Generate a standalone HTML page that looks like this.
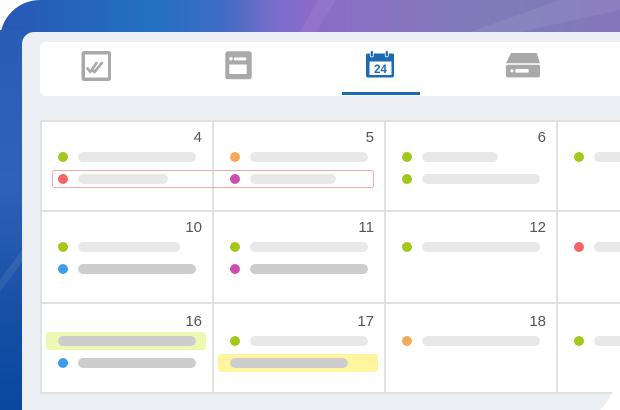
<!DOCTYPE html>
<html><head><meta charset="utf-8">
<style>
*{margin:0;padding:0;box-sizing:border-box}
html,body{width:620px;height:410px;overflow:hidden;background:#fff}
#root{position:relative;width:620px;height:410px;overflow:hidden;font-family:"Liberation Sans",sans-serif}
.abs{position:absolute}
.frame{left:0;top:0;width:620px;height:410px;border-top-left-radius:40px;
background:linear-gradient(90deg,#2757b5 0px,#2370c0 150px,#3d6cc4 220px,#7a6ccb 275px,#8b6bc9 310px,#8676bd 420px,#7c7db9 500px,#8575bb 620px);}
.lband{left:0;top:30px;width:22px;height:380px;background:linear-gradient(180deg,#2a5db6 0%,#2d63b9 40%,#164fa5 75%,#0848a0 100%)}
.screen{left:22px;top:32px;width:598px;height:378px;background:#ebeff3;border-top-left-radius:12px}
.tabs{left:40px;top:42px;width:580px;height:54px;background:#fff;border-radius:6px 0 0 6px}
.uline{left:342px;top:92px;width:78px;height:3px;background:#1d6ab4}
.grid{left:40px;top:120px;width:580px;height:274px;background:#fff}
.hl{height:2px;background:#e1e1e1;left:40px;width:580px}
.vl{width:2px;background:#e1e1e1;top:120px;height:274px}
.num{font-size:15px;line-height:15px;color:#555;text-align:right;width:60px}
.dot{width:10px;height:10px;border-radius:50%}
.bar{height:10px;border-radius:5px;background:#e8e8e8}
.bar.cut{border-radius:5px 0 0 5px}
.dk{background:#cdcdcd}
.g{background:#a2c81b}.o{background:#f5a95a}.r{background:#f56464}.m{background:#c851b0}.b{background:#3f9ce9}
</style></head><body><div id="root">
<div class="abs frame"></div>
<svg class="abs" style="left:0;top:0" width="620" height="410">
<polygon points="300,32 318,0 336,0 316,32" fill="#ffffff" opacity="0.06"/>
<polygon points="470,32 560,0 620,0 620,10 520,32" fill="#ffffff" opacity="0.07"/>
</svg>
<div class="abs lband"></div>
<svg class="abs" style="left:0;top:0" width="22" height="410"><polygon points="0,280 22,250 22,262 0,292" fill="#fff" opacity="0.08"/></svg>
<div class="abs screen"></div>
<svg class="abs" style="left:0;top:0" width="620" height="410"><path d="M620,360 Q618,392 600,410 L620,410 Z" fill="#fff"/></svg>
<div class="abs tabs"></div>
<svg class="abs" style="left:0;top:0" width="620" height="100">
<rect x="81.5" y="51" width="29.5" height="30" rx="2.5" fill="#a9a9a9"/>
<rect x="85" y="54.5" width="23" height="23" fill="#fff"/>
<polyline points="87.5,68.5 90.3,72 96.5,63" fill="none" stroke="#a9a9a9" stroke-width="2.6" stroke-linecap="round" stroke-linejoin="round"/>
<polyline points="92.3,70 94.5,72 101.8,63" fill="none" stroke="#a9a9a9" stroke-width="2.6" stroke-linecap="round" stroke-linejoin="round"/>
<rect x="225.3" y="51.3" width="26.4" height="28" rx="2.5" fill="#a9a9a9"/>
<circle cx="231" cy="58.8" r="1.7" fill="#fff"/>
<rect x="233.8" y="57.4" width="12.5" height="3" rx="1" fill="#fff"/>
<rect x="229.3" y="64.5" width="17.4" height="9.5" fill="#fff"/>
<rect x="366" y="53.5" width="28" height="24" rx="2" fill="#1d6ab4"/>
<rect x="369.5" y="61.5" width="22" height="13.5" fill="#fff"/>
<rect x="370.3" y="50.5" width="3" height="6.5" rx="1.5" fill="#1d6ab4" stroke="#fff" stroke-width="0.8"/>
<rect x="385.3" y="50.5" width="3" height="6.5" rx="1.5" fill="#1d6ab4" stroke="#fff" stroke-width="0.8"/>
<text x="380.5" y="73" font-family="Liberation Sans, sans-serif" font-size="11.5" font-weight="bold" fill="#1d6ab4" text-anchor="middle">24</text>
<polygon points="511,53 536.7,53 540,63.3 506,63.3" fill="#a9a9a9"/>
<rect x="506" y="64.8" width="34" height="12.6" rx="2" fill="#a9a9a9"/>
<circle cx="512" cy="70.8" r="1.6" fill="#fff"/>
<rect x="515.3" y="69" width="13.4" height="3.6" rx="0.8" fill="#fff"/>
</svg>
<div class="abs uline"></div>
<div class="abs grid"></div>
<div class="abs hl" style="top:120px"></div>
<div class="abs hl" style="top:210px"></div>
<div class="abs hl" style="top:302px"></div>
<div class="abs hl" style="top:392px"></div>
<div class="abs vl" style="left:40px"></div>
<div class="abs vl" style="left:212px"></div>
<div class="abs vl" style="left:384px"></div>
<div class="abs vl" style="left:556px"></div>
<div class="abs num" style="left:142px;top:129.5px">4</div>
<div class="abs num" style="left:314px;top:129.5px">5</div>
<div class="abs num" style="left:486px;top:129.5px">6</div>
<div class="abs num" style="left:142px;top:219.5px">10</div>
<div class="abs num" style="left:314px;top:219.5px">11</div>
<div class="abs num" style="left:486px;top:219.5px">12</div>
<div class="abs num" style="left:142px;top:314px">16</div>
<div class="abs num" style="left:314px;top:314px">17</div>
<div class="abs num" style="left:486px;top:314px">18</div>
<div class="abs" style="left:52px;top:170px;width:322px;height:18px;border:1px solid #f3a9a9;border-radius:3px"></div>
<div class="abs dot g" style="left:58px;top:152px"></div><div class="abs bar" style="left:78px;top:152px;width:118px"></div>
<div class="abs dot r" style="left:58px;top:174px"></div><div class="abs bar" style="left:78px;top:174px;width:90px"></div>
<div class="abs dot o" style="left:230px;top:152px"></div><div class="abs bar" style="left:250px;top:152px;width:118px"></div>
<div class="abs dot m" style="left:230px;top:174px"></div><div class="abs bar" style="left:250px;top:174px;width:86px"></div>
<div class="abs dot g" style="left:402px;top:152px"></div><div class="abs bar" style="left:422px;top:152px;width:76px"></div>
<div class="abs dot g" style="left:402px;top:174px"></div><div class="abs bar" style="left:422px;top:174px;width:118px"></div>
<div class="abs dot g" style="left:574px;top:152px"></div><div class="abs bar cut" style="left:594px;top:152px;width:26px"></div>
<div class="abs dot g" style="left:58px;top:242px"></div><div class="abs bar" style="left:78px;top:242px;width:102px"></div>
<div class="abs dot b" style="left:58px;top:264px"></div><div class="abs bar dk" style="left:78px;top:264px;width:118px"></div>
<div class="abs dot g" style="left:230px;top:242px"></div><div class="abs bar" style="left:250px;top:242px;width:118px"></div>
<div class="abs dot m" style="left:230px;top:264px"></div><div class="abs bar dk" style="left:250px;top:264px;width:118px"></div>
<div class="abs dot g" style="left:402px;top:242px"></div><div class="abs bar" style="left:422px;top:242px;width:118px"></div>
<div class="abs dot r" style="left:574px;top:242px"></div><div class="abs bar cut" style="left:594px;top:242px;width:26px"></div>
<div class="abs" style="left:46px;top:332px;width:160px;height:18px;border-radius:3px;background:#edf9b3"></div>
<div class="abs bar dk" style="left:58px;top:336px;width:138px"></div>
<div class="abs dot b" style="left:58px;top:358px"></div><div class="abs bar dk" style="left:78px;top:358px;width:118px"></div>
<div class="abs dot g" style="left:230px;top:336px"></div><div class="abs bar" style="left:250px;top:336px;width:118px"></div>
<div class="abs" style="left:218px;top:354px;width:160px;height:18px;border-radius:3px;background:#fff59f"></div>
<div class="abs bar dk" style="left:230px;top:358px;width:118px"></div>
<div class="abs dot o" style="left:402px;top:336px"></div><div class="abs bar" style="left:422px;top:336px;width:118px"></div>
<div class="abs dot g" style="left:574px;top:336px"></div><div class="abs bar cut" style="left:594px;top:336px;width:26px"></div>
<svg class="abs" style="left:0;top:0" width="620" height="410"><path d="M620,360 Q618,392 600,410 L620,410 Z" fill="#fff"/></svg>
</div></body></html>
